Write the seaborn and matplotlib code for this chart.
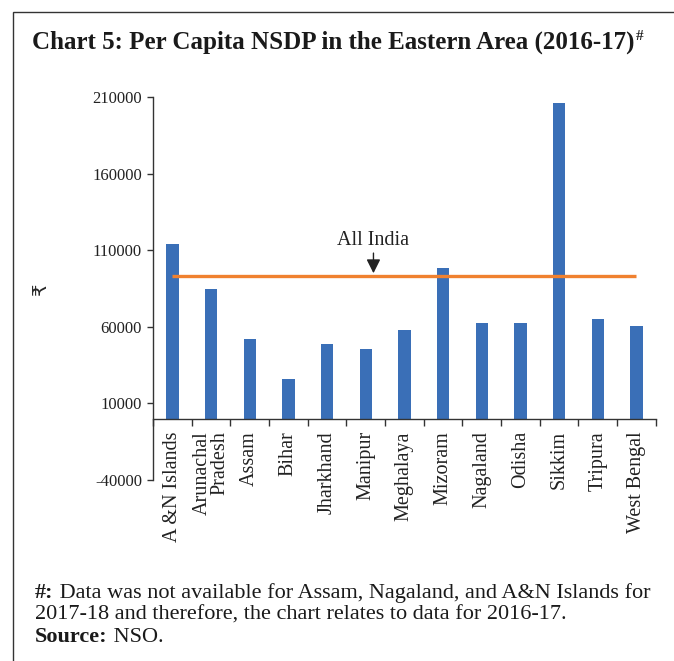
import numpy as np
import pandas as pd
import seaborn as sns
import matplotlib.pyplot as plt
from matplotlib.patches import Rectangle

# per capita NSDP, 2016-17
states = ["A &N Islands", "Arunachal\nPradesh", "Assam", "Bihar", "Jharkhand", "Manipur",
          "Meghalaya", "Mizoram", "Nagaland", "Odisha", "Sikkim", "Tripura", "West Bengal"]
nsdp = [113900, 85000, 51800, 26000, 48800, 45800, 58000,
        98700, 62300, 62300, 206300, 65300, 60800]
all_india = 93500
yticks = [-40000, 10000, 60000, 110000, 160000, 210000]

sns.set_theme(style="ticks")
plt.rcParams['font.family'] = ['Liberation Serif', 'DejaVu Sans']
plt.rcParams['axes.unicode_minus'] = False

fig = plt.figure(figsize=(6.74, 6.61), dpi=100)
ax = fig.add_axes([0.227, 0.274, 0.746, 0.579])

df = pd.DataFrame({"state": states, "nsdp": nsdp})
sns.barplot(data=df, x="state", y="nsdp", color="#3a6fb7", saturation=1,
            width=0.32, linewidth=0, ax=ax)

# all india average line + label
ax.hlines(all_india, 0, len(states) - 1, color="#f0812f", lw=2.4, zorder=3)
ax.annotate("All India", xy=(5.2, all_india + 1500), xytext=(5.2, 116500),
            ha="center", va="center", fontsize=14.5, color="#222222",
            arrowprops=dict(arrowstyle="-|>,head_length=0.6,head_width=0.3",
                            color="#222222", lw=1, mutation_scale=14, shrinkA=0, shrinkB=0))

ax.set_ylim(-40000, 210000)
ax.set_yticks(yticks)
ax.set_xlim(-0.5, len(states) - 0.5)
ax.spines['bottom'].set_position(('data', 0))
ax.spines[['top', 'right']].set_visible(False)
for s in ['left', 'bottom']:
    ax.spines[s].set_color('#333333')
    ax.spines[s].set_linewidth(1)

ax.set_xlabel('')
ax.set_ylabel('₹', fontsize=14, rotation=90)
ax.yaxis.set_label_coords(-0.205, 0.5)

ax.tick_params(axis='y', length=4.5, width=1, color='#333333', labelsize=12, labelcolor='#222222')
ax.tick_params(axis='x', which='major', length=0, pad=9, labelsize=14.5, labelcolor='#222222')
ax.set_xticks(np.arange(len(states) + 1) - 0.5, minor=True)
ax.tick_params(axis='x', which='minor', length=5, width=1, color='#333333', direction='out')
for lbl in ax.get_xticklabels():
    lbl.set_rotation(90)
    lbl.set_multialignment('right')
    lbl.set_linespacing(0.85)

# frame around the chart box
fig.patches.append(Rectangle((13 / 674, -0.1), 1.2, 1.1 - 12 / 661, transform=fig.transFigure,
                             fill=False, edgecolor='#333333', lw=1))

title = fig.text(32 / 674, 1 - 42 / 661, "Chart 5: Per Capita NSDP in the Eastern Area (2016-17)",
                 fontsize=18, fontweight='bold', va='center', ha='left', color='#1a1a1a')
ax.annotate("#", xy=(1.0, 1.0), xycoords=title, xytext=(1, 0), textcoords='offset points',
            ha='left', va='top', fontsize=11, fontweight='bold', annotation_clip=False)

# footnote: bold lead-in, then normal text placed right after it
foot = [("#:", " Data was not available for Assam, Nagaland, and A&N Islands for"),
        ("", "2017-18 and therefore, the chart relates to data for 2016-17."),
        ("Source:", " NSO.")]
for i, (lead, rest) in enumerate(foot):
    y = 1 - (598 + 22 * i) / 661
    if not lead:
        fig.text(35 / 674, y, rest, fontsize=16, va='baseline', ha='left', color='#1a1a1a')
        continue
    head = fig.text(35 / 674, y, lead, fontsize=16, fontweight='bold', va='baseline',
                    ha='left', color='#1a1a1a')
    ax.annotate(rest, xy=(1, 0), xycoords=head, ha='left', va='bottom', fontsize=16,
                color='#1a1a1a', annotation_clip=False)

fig.savefig("out.png", dpi=100)
